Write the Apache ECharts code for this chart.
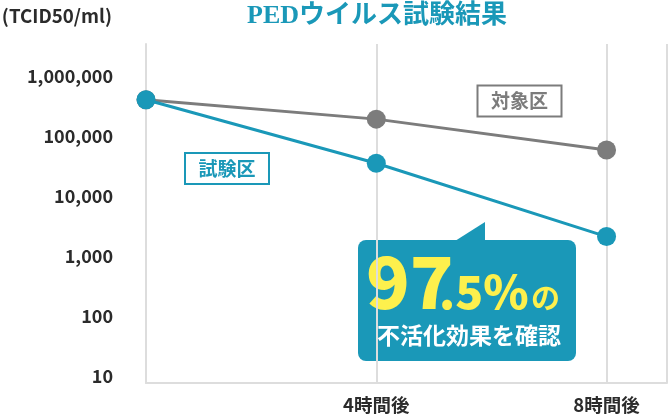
<!DOCTYPE html>
<html><head><meta charset="utf-8">
<script src="https://cdn.jsdelivr.net/npm/echarts@6/dist/echarts.min.js"></script>
<style>html,body{margin:0;padding:0;background:#fff}#c{width:670px;height:419px}</style>
</head><body><div id="c"></div>
<script>
// ---- data ----
const hours = [0, 4, 8];
const xLabels = ['', '4時間後', '8時間後'];
const controlValues = [400000, 190000, 58000];   // 対象区
const testValues = [400000, 35000, 2100];        // 試験区
const seriesNames = ['対象区', '試験区'];
const yTicks = [10, 100, 1000, 10000, 100000, 1000000];
const titleText = 'PEDウイルス試験結果';
const unitText = '(TCID50/ml)';
const calloutBig = '97';
const calloutSmall = '.5%';
const calloutNo = 'の';
const calloutSub = '不活化効果を確認';

const TEAL = '#1a98b8';
const GRAY = '#7c7c7c';
const AXIS = '#dddddd';
const YELLOW = '#fdf04d';
const JP = "'Noto Sans CJK JP', 'Noto Sans', sans-serif";

const chart = echarts.init(document.getElementById('c'), null, {renderer: 'canvas'});
chart.setOption({
  animation: false,
  backgroundColor: '#fff',
  grid: {left: 146, right: -1, top: 44, bottom: 36, containLabel: false},
  xAxis: {
    type: 'value', min: 0, max: 9.05, interval: 4,
    axisLine: {show: true, lineStyle: {color: AXIS, width: 2}},
    axisTick: {show: false},
    splitLine: {show: true, lineStyle: {color: AXIS, width: 2}},
    axisLabel: {
      margin: 13, color: '#2b2b2b', fontSize: 18.5, fontWeight: 'bold', fontFamily: JP,
      formatter: v => { const i = hours.indexOf(v); return i >= 0 ? xLabels[i] : ''; }
    }
  },
  yAxis: {
    type: 'log', logBase: 10, min: 7.64, max: 3390000,
    axisLine: {show: true, lineStyle: {color: AXIS, width: 2}},
    axisTick: {show: false},
    splitLine: {show: false},
    axisLabel: {
      margin: 33, color: '#2b2b2b', fontSize: 18, fontWeight: 'bold', fontFamily: JP,
      formatter: v => { const t = yTicks.find(t => Math.abs(t - v) / t < 1e-6); return t ? t.toLocaleString('en-US') : ''; }
    }
  },
  series: [
    {
      name: seriesNames[0], type: 'line', symbol: 'circle', symbolSize: 19,
      itemStyle: {color: GRAY}, lineStyle: {color: GRAY, width: 3},
      data: hours.map((h, i) => [h, controlValues[i]]), z: 2
    },
    {
      name: seriesNames[1], type: 'line', symbol: 'circle', symbolSize: 19,
      itemStyle: {color: TEAL}, lineStyle: {color: TEAL, width: 3},
      data: hours.map((h, i) => [h, testValues[i]]), z: 3
    }
  ],
  graphic: [
    {type: 'text', x: 377, y: 16, style: {text: titleText, align: 'center', verticalAlign: 'middle',
      fill: TEAL, font: "bold 26px 'Liberation Serif', 'DejaVu Serif', 'Noto Sans CJK JP', serif"}},
    {type: 'text', x: 112, y: 16, style: {text: unitText, align: 'right', verticalAlign: 'middle',
      fill: '#2b2b2b', font: "bold 18.7px " + JP}},
    // legend boxes
    {type: 'group', children: [
      {type: 'rect', shape: {x: 185, y: 153, width: 84, height: 31}, style: {fill: '#fff', stroke: TEAL, lineWidth: 2}},
      {type: 'text', x: 227, y: 168.5, style: {text: seriesNames[1], align: 'center', verticalAlign: 'middle', fill: TEAL, font: "bold 19px " + JP}}
    ]},
    {type: 'group', children: [
      {type: 'rect', shape: {x: 477.5, y: 85.5, width: 84, height: 31}, style: {fill: '#fff', stroke: GRAY, lineWidth: 2}},
      {type: 'text', x: 519.5, y: 101, style: {text: seriesNames[0], align: 'center', verticalAlign: 'middle', fill: GRAY, font: "bold 19px " + JP}}
    ]},
    // callout
    {type: 'group', z: 10, children: [
      {type: 'polygon', shape: {points: [[455, 241], [485, 222], [485, 241]]}, style: {fill: TEAL}},
      {type: 'rect', shape: {x: 358, y: 240, width: 218, height: 121, r: 8}, style: {fill: TEAL}},
      {type: 'text', x: 366, y: 318, style: {text: calloutBig, align: 'left', verticalAlign: 'bottom',
        fill: YELLOW, font: "900 72px " + JP}},
      {type: 'text', x: 439, y: 315, style: {text: calloutSmall, align: 'left', verticalAlign: 'bottom',
        fill: YELLOW, font: "900 46px " + JP}},
      {type: 'text', x: 531, y: 312, style: {text: calloutNo, align: 'left', verticalAlign: 'bottom',
        fill: YELLOW, font: "bold 29px " + JP}},
      {type: 'text', x: 469, y: 335, style: {text: calloutSub, align: 'center', verticalAlign: 'middle',
        fill: '#ffffff', font: "bold 23px " + JP}}
    ]}
  ]
});
</script></body></html>
